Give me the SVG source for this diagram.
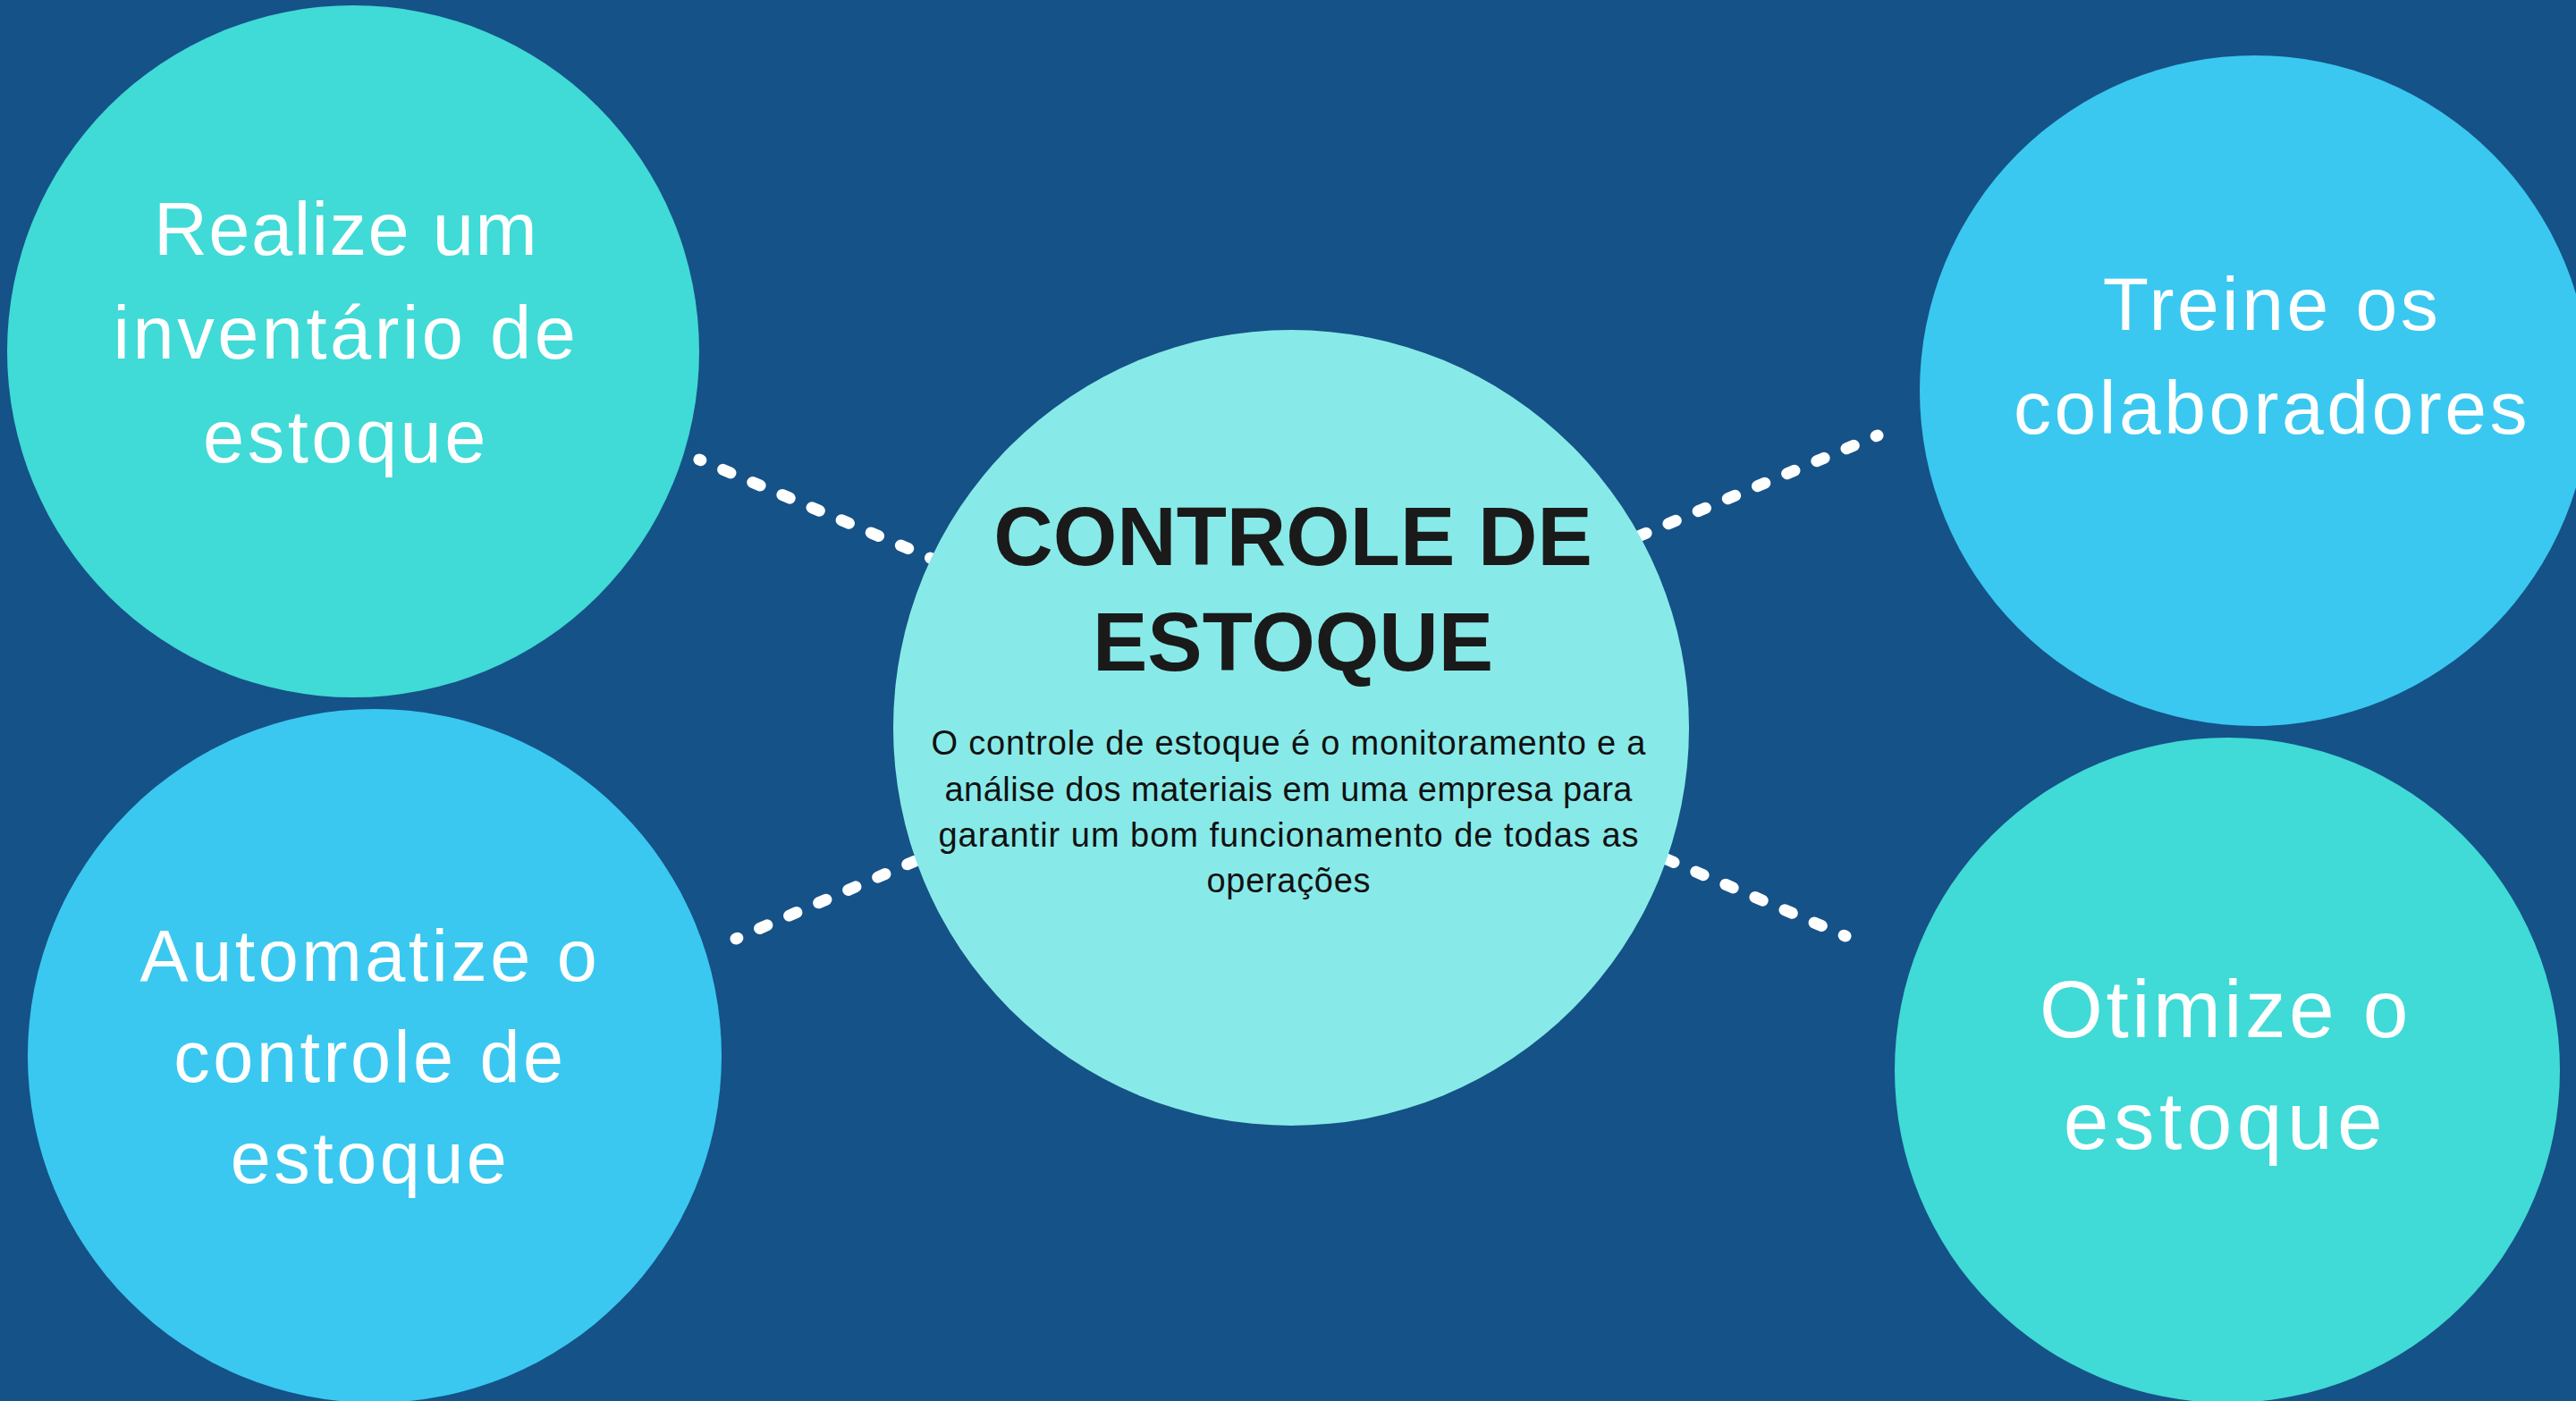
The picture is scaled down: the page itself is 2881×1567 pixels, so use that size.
<svg xmlns="http://www.w3.org/2000/svg" width="2881" height="1567" viewBox="0 0 2881 1567">
<style>
.bg{fill:#155287}
.teal{fill:#40DAD7}
.sky{fill:#3AC8F0}
.core{fill:#88EAE8}
.lbl{font-family:"Liberation Sans",Arial,sans-serif;fill:#FFFFFF;text-anchor:middle;letter-spacing:3.5px}
.title{font-family:"Liberation Sans",Arial,sans-serif;font-weight:bold;fill:#1A1A1A;text-anchor:middle;font-size:92px}
.body{font-family:"Liberation Sans",Arial,sans-serif;fill:#111111;text-anchor:middle;font-size:38px}
.conn{fill:none;stroke:#FFFFFF;stroke-width:13;stroke-linecap:round;stroke-dasharray:9 27;stroke-dashoffset:7}
</style>
<rect class="bg" x="0" y="0" width="2881" height="1567"/>
<g id="connectors">
<path class="conn" d="M782 514 L1052 629"/>
<path class="conn" d="M2100 487 L1825 603"/>
<path class="conn" d="M823 1050 L1035 958"/>
<path class="conn" d="M2064 1047 L1850 955"/>
</g>
<g id="node-inventario">
<circle class="teal" cx="395" cy="393" r="387"/>
<text class="lbl" font-size="83"><tspan x="387" y="285" letter-spacing="1.5">Realize um</tspan><tspan x="387" y="401">inventário de</tspan><tspan x="387" y="517">estoque</tspan></text>
</g>
<g id="node-automatize">
<circle class="sky" cx="419" cy="1181" r="388"/>
<text class="lbl" font-size="81"><tspan x="414" y="1097">Automatize o</tspan><tspan x="414" y="1210">controle de</tspan><tspan x="414" y="1323">estoque</tspan></text>
</g>
<g id="node-treine">
<circle class="sky" cx="2522" cy="437" r="375"/>
<text class="lbl" font-size="84"><tspan x="2541" y="369">Treine os</tspan><tspan x="2541" y="485">colaboradores</tspan></text>
</g>
<g id="node-otimize">
<circle class="teal" cx="2491" cy="1197" r="372"/>
<text class="lbl" font-size="91"><tspan x="2489" y="1160">Otimize o</tspan><tspan x="2489" y="1285" letter-spacing="5.5">estoque</tspan></text>
</g>
<g id="node-controle">
<circle class="core" cx="1444" cy="814" r="445"/>
<text class="title"><tspan x="1446" y="632">CONTROLE DE</tspan><tspan x="1446" y="750">ESTOQUE</tspan></text>
<text class="body"><tspan x="1441" y="844" textLength="799" lengthAdjust="spacing">O controle de estoque é o monitoramento e a</tspan><tspan x="1441" y="896" textLength="769" lengthAdjust="spacing">análise dos materiais em uma empresa para</tspan><tspan x="1441" y="947" textLength="783" lengthAdjust="spacing">garantir um bom funcionamento de todas as</tspan><tspan x="1441" y="998" textLength="183" lengthAdjust="spacing">operações</tspan></text>
</g>
</svg>
